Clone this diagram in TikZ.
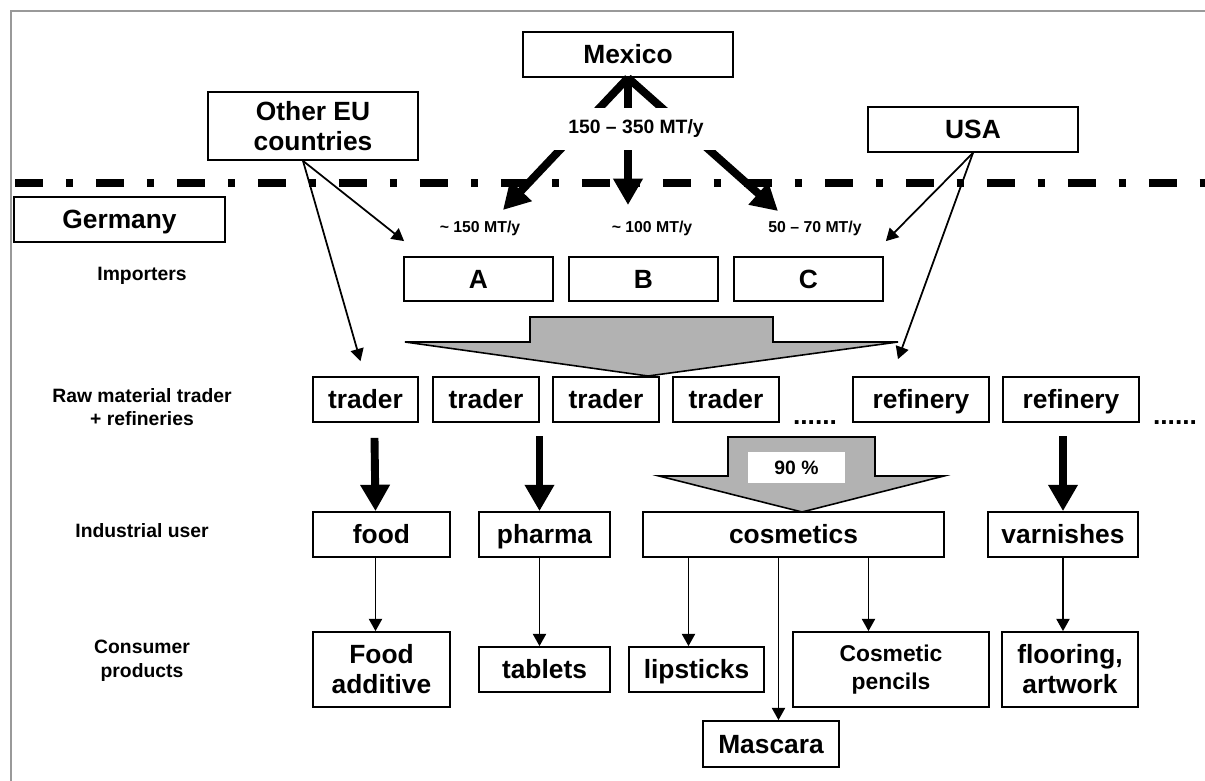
\documentclass[tikz,border=0pt]{standalone}
\usepackage{fontspec}
\setmainfont{Liberation Sans}
\usetikzlibrary{arrows.meta, calc}
\definecolor{framegray}{HTML}{999999}
\definecolor{arrowgray}{HTML}{B2B2B2}
\tikzstyle{box} = [rectangle, draw=black, line width=1pt, fill=white, text centered, inner sep=1pt, text height=10.8pt, text depth=0.4pt, font=\fontsize{15}{17}\selectfont\bfseries]
\tikzstyle{twoline} = [align=center, text height=, text depth=]
\tikzstyle{level} = [text centered, align=center, font=\fontsize{11}{13.5}\selectfont\bfseries]
\tikzstyle{amount} = [text centered, font=\fontsize{9}{11}\selectfont\bfseries]
\tikzstyle{thinarrow} = [-{Triangle[length=7pt,width=7.5pt]}, line width=1pt]
\tikzstyle{bigarrow} = [-{Triangle[length=15pt,width=16pt]}, line width=4.5pt]
\tikzstyle{blockarrow} = [draw=black, line width=0.9pt, fill=arrowgray]

\begin{document}
\begin{tikzpicture}[x=0.02cm, y=-0.02cm]
\useasboundingbox (0,0) rectangle (1205,781);
%frame and border
\draw[framegray, line width=1.2pt] (11,781) -- (11,11) -- (1205,11);
\draw[line width=4.5pt, dash pattern=on 15.9pt off 13pt on 4pt off 13.2pt] (15,183) -- (1205,183);
%countries
\node[box, minimum width=4.2cm, minimum height=0.9cm](mexico) at (628,54.5){Mexico};
\node[box, twoline, minimum width=4.2cm, minimum height=1.36cm](eu) at (313,126){Other EU\\countries};
\node[box, minimum width=4.2cm, minimum height=0.9cm](usa) at (973,129.5){USA};
\node[box, minimum width=4.22cm, minimum height=0.9cm](germany) at (119.5,219.5){Germany};
%row labels
\node[level](imp) at (142,276){Importers};
\node[level](raw) at (142,407){Raw material trader\\+ refineries};
\node[level](ind) at (142,531){Industrial user};
\node[level](cons) at (142,661){Consumer\\products};
%importers
\node[amount](amA) at (480,228){\textasciitilde{} 150 MT/y};
\node[amount](amB) at (652,228){\textasciitilde{} 100 MT/y};
\node[amount](amC) at (815,228){50 -- 70 MT/y};
\node[box, minimum width=2.98cm, minimum height=0.88cm](A) at (478.5,279){A};
\node[box, minimum width=2.98cm, minimum height=0.88cm](B) at (643.5,279){B};
\node[box, minimum width=2.98cm, minimum height=0.88cm](C) at (808.5,279){C};
%traders and refineries
\node[box, minimum width=2.1cm, minimum height=0.9cm](trader1) at (365.5,399.5){trader};
\node[box, minimum width=2.12cm, minimum height=0.9cm](trader2) at (486,399.5){trader};
\node[box, minimum width=2.12cm, minimum height=0.9cm](trader3) at (606,399.5){trader};
\node[box, minimum width=2.12cm, minimum height=0.9cm](trader4) at (726,399.5){trader};
\node[box, minimum width=2.72cm, minimum height=0.9cm](refinery1) at (921,399.5){refinery};
\node[box, minimum width=2.72cm, minimum height=0.9cm](refinery2) at (1071,399.5){refinery};
\node[anchor=base, font=\fontsize{15}{17}\selectfont\bfseries](dots1) at (815,424){......};
\node[anchor=base, font=\fontsize{15}{17}\selectfont\bfseries](dots2) at (1175,424){......};
%industrial users
\node[box, minimum width=2.74cm, minimum height=0.9cm](food) at (381.5,534.5){food};
\node[box, minimum width=2.62cm, minimum height=0.9cm](pharma) at (544.5,534.5){pharma};
\node[box, minimum width=6.02cm, minimum height=0.9cm](cosmetics) at (793.5,534.5){cosmetics};
\node[box, minimum width=3.0cm, minimum height=0.9cm](varnishes) at (1063,534.5){varnishes};
%consumer products
\node[box, twoline, minimum width=2.74cm, minimum height=1.5cm](foodadd) at (381.5,669.5){Food\\additive};
\node[box, minimum width=2.62cm, minimum height=0.9cm](tablets) at (544.5,669.5){tablets};
\node[box, minimum width=2.7cm, minimum height=0.9cm](lipsticks) at (696.5,669.5){lipsticks};
\node[box, minimum width=2.72cm, minimum height=0.92cm](mascara) at (771,744){Mascara};
\node[box, twoline, minimum width=3.92cm, minimum height=1.5cm, font=\fontsize{13}{15.5}\selectfont\bfseries](pencils) at (891,669.5){Cosmetic\\pencils};
\node[box, twoline, minimum width=2.72cm, minimum height=1.5cm](flooring) at (1070,669.5){flooring,\\artwork};
%arrows from Mexico
\coordinate (tipA) at (503,210);
\coordinate (tipB) at (628,205);
\coordinate (tipC) at (778,211);
\draw[bigarrow] (mexico.south) -- (tipA);
\draw[bigarrow] (mexico.south) -- (tipB);
\draw[bigarrow] (mexico.south) -- (tipC);
\node[fill=white, minimum width=3.3cm, minimum height=0.84cm, font=\fontsize{11}{13}\selectfont\bfseries](total) at (636,129){150 -- 350 MT/y};
%arrows from EU and USA
\draw[thinarrow] ($(eu.south)+(-10,0)$) -- ($(A.north west)+(1,-15)$);
\draw[thinarrow] ($(eu.south)+(-10,0)$) -- ($(trader1.north)+(-5,-15)$);
\draw[thinarrow] (usa.south) -- ($(C.north east)+(2,-15)$);
\draw[thinarrow] (usa.south) -- ($(refinery1.north)+(-23,-17)$);
%importers to traders
\draw[blockarrow] (530,317) -- (773,317) -- (773,342) -- (898,342) -- (648,376) -- (405,342) -- (530,342) -- cycle;
%traders to users
\draw[bigarrow] ($(trader1.south)+(9,15)$) -- ($(food.north)+(-6,0)$);
\draw[bigarrow] ($(pharma.north)+(-5,-75)$) -- ($(pharma.north)+(-5,0)$);
\draw[bigarrow] ($(varnishes.north)+(0,-75)$) -- (varnishes.north);
\draw[blockarrow] (728,437) -- (875,437) -- (875,476) -- (944,476) -- (802,512) -- (659,476) -- (728,476) -- cycle;
\node[fill=white, minimum width=1.94cm, minimum height=0.62cm, font=\fontsize{11}{13}\selectfont\bfseries](pct) at (796.5,467.5){90 \%};
%users to products
\coordinate (c1) at ($(cosmetics.south)+(-105,0)$);
\coordinate (c2) at ($(cosmetics.south)+(-15,0)$);
\coordinate (c3) at ($(cosmetics.south)+(75,0)$);
\draw[thinarrow] ($(food.south)+(-6,0)$) -- ($(foodadd.north)+(-6,0)$);
\draw[thinarrow] ($(pharma.south)+(-5,0)$) -- ($(tablets.north)+(-5,0)$);
\draw[thinarrow] (c1) -- (c1 |- lipsticks.north);
\draw[thinarrow] (c2) -- (c2 |- mascara.north);
\draw[thinarrow] (c3) -- (c3 |- pencils.north);
\draw[thinarrow] (varnishes.south) -- ($(flooring.north)+(-7,0)$);
\end{tikzpicture}
\end{document}
